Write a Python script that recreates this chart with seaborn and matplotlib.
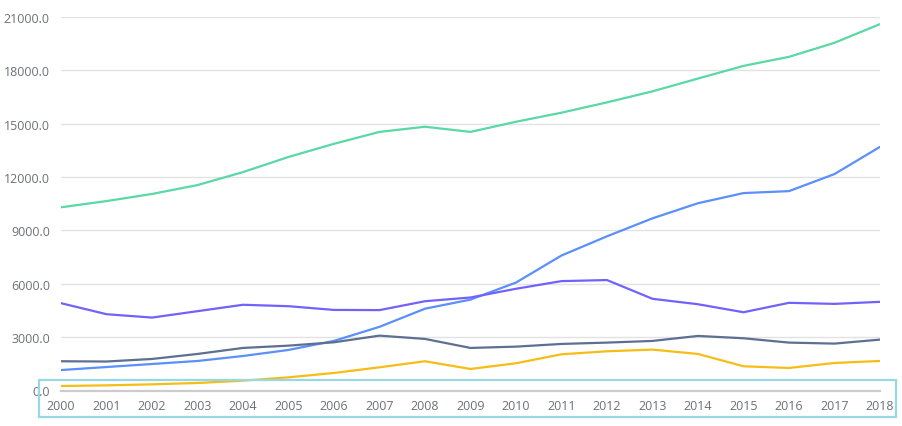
import matplotlib
matplotlib.use("Agg")
import matplotlib.pyplot as plt
import seaborn as sns
import pandas as pd
from matplotlib.patches import Rectangle
from matplotlib.ticker import FuncFormatter

years = [str(y) for y in range(2000, 2019)]
series_a = [10300, 10650, 11050, 11550, 12280, 13130, 13870, 14540, 14830, 14540,
            15110, 15620, 16200, 16820, 17540, 18250, 18760, 19550, 20600]
series_b = [1150, 1320, 1490, 1660, 1940, 2280, 2790, 3580, 4600, 5110,
            6070, 7590, 8670, 9680, 10530, 11100, 11210, 12170, 13700]
series_c = [4910, 4290, 4100, 4460, 4820, 4740, 4530, 4520, 5020, 5230,
            5720, 6150, 6210, 5155, 4850, 4400, 4930, 4870, 4985]
series_d = [1644, 1630, 1773, 2055, 2393, 2522, 2711, 3085, 2900, 2393,
            2466, 2618, 2693, 2787, 3068, 2937, 2693, 2637, 2862]
series_e = [253, 290, 347, 422, 553, 741, 985, 1304, 1644, 1210,
            1531, 2036, 2205, 2299, 2055, 1362, 1267, 1548, 1661]
series_names = ["A", "B", "C", "D", "E"]
colors = ["#5ad8a6", "#5b8ff9", "#7262fd", "#5d7092", "#f6bd16"]
y_ticks = [0, 3000, 6000, 9000, 12000, 15000, 18000, 21000]

rows = []
for name, vals in zip(series_names, [series_a, series_b, series_c, series_d, series_e]):
    for i, (yr, v) in enumerate(zip(years, vals)):
        rows.append({"idx": i, "year": yr, "value": v, "series": name})
df = pd.DataFrame(rows)

sns.set_style("white")
plt.rcParams["font.family"] = ["Open Sans", "DejaVu Sans"]

W, H = 903, 427
fig = plt.figure(figsize=(W / 100, H / 100), dpi=100)
left, right, top, bottom = 61, 880, 18, 391.5
ax = fig.add_axes([left / W, 1 - bottom / H, (right - left) / W, (bottom - top) / H])

sns.lineplot(data=df, x="idx", y="value", hue="series", hue_order=series_names,
             palette=colors, linewidth=1.6, ax=ax, legend=False, sort=False)

ax.set_xlim(0, len(years) - 1)
ax.set_ylim(0, 21000)
ax.set_xticks(range(len(years)))
ax.set_xticklabels(years)
ax.set_yticks(y_ticks)
ax.yaxis.set_major_formatter(FuncFormatter(lambda v, p: f"{v:.1f}"))
ax.grid(axis="y", color="#e2e2e2", linewidth=1)
ax.grid(axis="x", visible=False)
ax.set_axisbelow(True)
for s in ["top", "right", "left"]:
    ax.spines[s].set_visible(False)
ax.spines["bottom"].set_color("#cccccc")
ax.spines["bottom"].set_linewidth(1.6)
ax.tick_params(axis="both", length=0, colors="#6e7079", labelsize=9)
ax.tick_params(axis="y", pad=8)
ax.tick_params(axis="x", pad=6)
ax.set_xlabel("")
ax.set_ylabel("")

rect = Rectangle((39.5 / W, 1 - 417.5 / H), (896 - 39.5) / W, (417.5 - 380.5) / H,
                 transform=fig.transFigure, fill=False, edgecolor="#99d8e3",
                 linewidth=1.6, zorder=10)
fig.patches.append(rect)

fig.savefig("out.png", dpi=100)
